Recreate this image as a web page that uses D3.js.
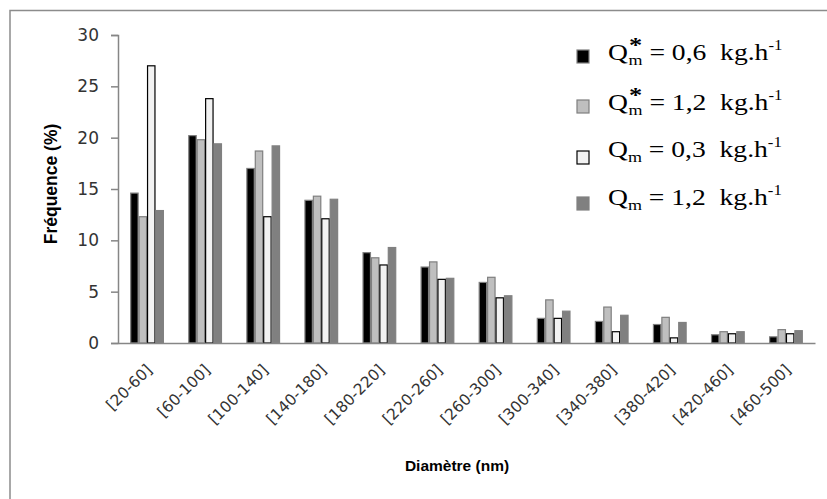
<!DOCTYPE html>
<html><head><meta charset="utf-8">
<script src="https://cdn.jsdelivr.net/npm/d3@7"></script>
<style>body{margin:0;background:#fff}svg{display:block}</style>
</head><body>
<svg id="c" width="827" height="499"></svg>
<script>
const categories = ["[20-60]","[60-100]","[100-140]","[140-180]","[180-220]","[220-260]","[260-300]","[300-340]","[340-380]","[380-420]","[420-460]","[460-500]"];
const seriesKeys = ["s06star","s12star","s03","s12"];
const s06star = [14.6,20.2,17.0,13.9,8.8,7.4,5.9,2.4,2.1,1.8,0.8,0.6];
const s12star = [12.3,19.8,18.7,14.3,8.3,7.9,6.4,4.2,3.5,2.5,1.1,1.3];
const s03     = [27.0,23.8,12.3,12.1,7.6,6.2,4.4,2.4,1.1,0.5,0.9,0.9];
const s12     = [12.9,19.4,19.2,14.0,9.3,6.3,4.6,3.1,2.7,2.0,1.1,1.2];
const yTicks = [0,5,10,15,20,25,30];
const legendValues = ["0,6","1,2","0,3","1,2"];
const legendStar = [true,true,false,false];

const values = {s06star, s12star, s03, s12};
const fills = {s06star:"#000000", s12star:"#bfbfbf", s03:"#f2f2f2", s12:"#808080"};
const strokes = {s06star:"#7f7f7f", s12star:"#7f7f7f", s03:"#000000", s12:"#808080"};

const svg = d3.select("#c");
// outer frame
svg.append("rect").attr("x",10).attr("y",10.5).attr("width",840).attr("height",520)
  .attr("fill","none").attr("stroke","#8c8c8c").attr("stroke-width",1.5);

const x0 = d3.scaleBand().domain(categories).range([118,815]).paddingInner(0.42).paddingOuter(0.21);
const x1 = d3.scaleBand().domain(seriesKeys).range([0,x0.bandwidth()]);
const y = d3.scaleLinear().domain([0,30]).range([343,35]);

// bars
const g = svg.append("g");
categories.forEach((c,i)=>{
  seriesKeys.forEach(k=>{
    g.append("rect")
      .attr("x", x0(c)+x1(k)+0.5)
      .attr("y", y(values[k][i]))
      .attr("width", x1.bandwidth()-1)
      .attr("height", y(0)-y(values[k][i]))
      .attr("fill", fills[k]).attr("stroke", strokes[k]).attr("stroke-width",1.2);
  });
});

// y axis
const ya = svg.append("g").attr("transform","translate(118,0)")
  .call(d3.axisLeft(y).tickValues(yTicks).tickSize(7).tickPadding(12));
ya.select(".domain").attr("stroke","#868686").attr("stroke-width",1.5);
ya.selectAll(".tick line").attr("stroke","#868686").attr("stroke-width",1.5);
ya.selectAll(".tick text").attr("font-family","DejaVu Sans").attr("font-size",17).attr("fill","#333");

// x axis
const xa = svg.append("g").attr("transform","translate(0,343)")
  .call(d3.axisBottom(x0).tickSize(0).tickPadding(0));
xa.select(".domain").attr("stroke","#868686").attr("stroke-width",1.5);
xa.selectAll(".tick text")
  .attr("font-family","DejaVu Sans").attr("font-size",15.5).attr("fill","#333")
  .attr("text-anchor","end")
  .attr("y",0).attr("dy","0.72em")
  .attr("transform","translate(-2,20) rotate(-45)");

// axis titles
svg.append("text").attr("transform","translate(57,184) rotate(-90)")
  .attr("text-anchor","middle").attr("font-family","Liberation Sans").attr("font-weight","bold")
  .attr("font-size",17.5).attr("fill","#000").text("Fréquence (%)");
svg.append("text").attr("x",457).attr("y",471)
  .attr("text-anchor","middle").attr("font-family","Liberation Sans").attr("font-weight","bold")
  .attr("font-size",15.5).attr("fill","#000").text("Diamètre (nm)");

// legend
const rowBase = [60,110,157,205];
const sqTop = [50,100,151,197];
seriesKeys.forEach((k,i)=>{
  svg.append("rect").attr("x",577).attr("y",sqTop[i]).attr("width",12).attr("height",13)
    .attr("fill",fills[k]).attr("stroke",k==="s03"?"#000":strokes[k]).attr("stroke-width",1.2);
  const lg = svg.append("g").attr("transform",`translate(608,${rowBase[i]}) scale(1.2,1)`);
  const t = lg.append("text").attr("font-family","Liberation Serif").attr("font-size",23).attr("fill","#000");
  t.append("tspan").text("Q");
  if (legendStar[i]) {
    t.append("tspan").attr("font-weight","bold").attr("font-size",22).attr("dx",1).attr("dy",-8).text("*");
    t.append("tspan").attr("font-size",15).attr("dx",-11.5).attr("dy",13).text("m");
  } else {
    t.append("tspan").attr("font-size",15).attr("dy",5).text("m");
  }
  t.append("tspan").attr("dy",-5).text("\u00a0=\u00a0" + legendValues[i] + "\u00a0\u00a0kg.h");
  t.append("tspan").attr("font-size",14).attr("dy",-10).text("-1");
});
</script>
</body></html>
